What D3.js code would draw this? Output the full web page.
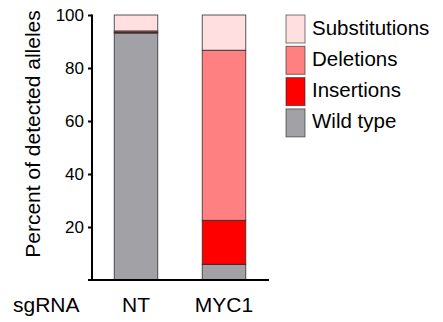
<!DOCTYPE html>
<html>
<head>
<meta charset="utf-8">
<script src="https://cdn.jsdelivr.net/npm/d3@7"></script>
<style>
  html, body { margin: 0; padding: 0; background: #fff; }
  svg { display: block; font-family: "Liberation Sans", Arial, Helvetica, sans-serif; }
</style>
</head>
<body>
<svg id="chart" width="443" height="322"></svg>
<script>
// Guides (x categories)
const categories = ["NT", "MYC1"];
// Allele outcome classes, stacked bottom to top
const seriesNames = ["Wild type", "Insertions", "Deletions", "Substitutions"];
const wildType      = [93.2, 5.9];
const insertions    = [0.3, 16.6];
const deletions     = [0.5, 64.2];
const substitutions = [6.0, 13.3];
const yTicks = [20, 40, 60, 80, 100];
const colors = ["#a2a1a6", "#ff0000", "#ff8080", "#ffdfe0"];

const svg = d3.select("#chart");
const rows = categories.map((c, i) => ({
  guide: c,
  "Wild type": wildType[i],
  "Insertions": insertions[i],
  "Deletions": deletions[i],
  "Substitutions": substitutions[i]
}));
const stacked = d3.stack().keys(seriesNames)(rows);

const x = d3.scaleBand().domain(categories).range([92, 268]).paddingInner(0.506).paddingOuter(0.253);
const y = d3.scaleLinear().domain([0, 100]).range([280, 15]);
const color = d3.scaleOrdinal().domain(seriesNames).range(colors);

// Bars
svg.append("g").selectAll("g").data(stacked).join("g")
  .attr("fill", d => color(d.key))
  .selectAll("rect").data(d => d).join("rect")
  .attr("x", d => x(d.data.guide))
  .attr("width", x.bandwidth())
  .attr("y", d => y(d[1]))
  .attr("height", d => y(d[0]) - y(d[1]))
  .attr("stroke", "#222")
  .attr("stroke-opacity", 0.75)
  .attr("stroke-width", 1);

// Y axis
const yAxis = svg.append("g").attr("transform", "translate(92,0)")
  .call(d3.axisLeft(y).tickValues(yTicks).tickSize(4).tickPadding(4));
yAxis.select(".domain").attr("d", `M0,${y(100) - 0.5}V${y(0)}`).attr("stroke", "#000").attr("stroke-width", 2);
yAxis.selectAll(".tick line").attr("stroke", "#000").attr("stroke-width", 2);
yAxis.selectAll(".tick text").attr("fill", "#000").style("font-size", "17px")
  .style("font-family", "'Liberation Sans', Arial, sans-serif");

// X axis baseline
svg.append("line").attr("x1", 88).attr("x2", 269).attr("y1", y(0)).attr("y2", y(0))
  .attr("stroke", "#000").attr("stroke-width", 2);

// Category labels
svg.append("g").selectAll("text").data(categories).join("text")
  .attr("x", d => x(d) + x.bandwidth() / 2)
  .attr("y", 312)
  .attr("text-anchor", "middle")
  .style("font-size", "21px")
  .text(d => d);
svg.append("text").attr("x", 13).attr("y", 312).style("font-size", "21px").text("sgRNA");

// Y axis title
svg.append("text")
  .attr("transform", "translate(40,134) rotate(-90)")
  .attr("text-anchor", "middle")
  .style("font-size", "21px")
  .text("Percent of detected alleles");

// Legend
const legendOrder = ["Substitutions", "Deletions", "Insertions", "Wild type"];
const lg = svg.append("g").selectAll("g").data(legendOrder).join("g")
  .attr("transform", (d, i) => `translate(286,${15 + i * 31.3})`);
lg.append("rect").attr("width", 19).attr("height", 28)
  .attr("fill", d => color(d)).attr("stroke", "#222").attr("stroke-opacity", 0.6).attr("stroke-width", 1);
lg.append("text").attr("x", 26).attr("y", 19.5).style("font-size", "20.5px").text(d => d);
</script>
</body>
</html>
